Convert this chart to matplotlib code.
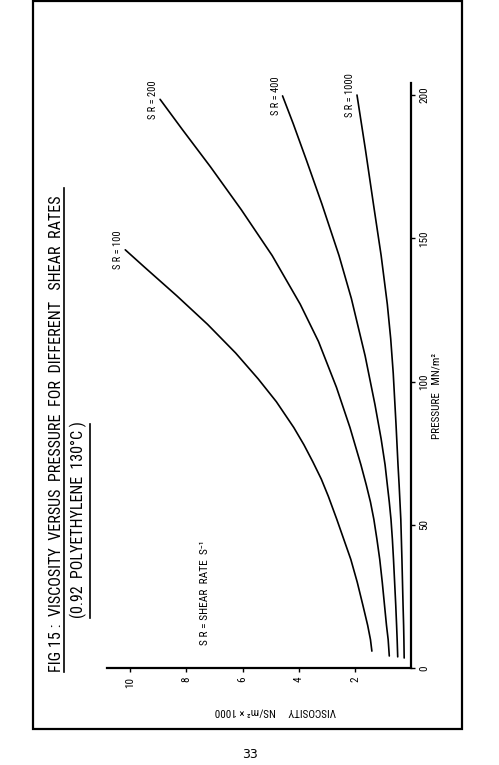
import matplotlib
matplotlib.use("Agg")
import matplotlib.pyplot as plt
from matplotlib.lines import Line2D
from matplotlib.patches import Rectangle

# ---------------- data (pressure MN/m^2, viscosity NS/m^2 x 1000) ----------------
sr100_p = [6, 10, 15, 22, 30, 38, 45, 52, 60, 66, 72, 78, 84, 93, 101, 110, 120, 130, 140, 146]
sr100_v = [1.40, 1.45, 1.55, 1.72, 1.92, 2.15, 2.40, 2.65, 2.95, 3.20, 3.50, 3.82, 4.18, 4.80, 5.45,
           6.25, 7.25, 8.35, 9.50, 10.18]

sr200_p = [4.3, 10, 15, 22, 30, 38, 45, 52, 58, 64, 71, 84, 98, 114, 127, 144, 160, 175, 188, 198.5]
sr200_v = [0.78, 0.82, 0.88, 0.95, 1.03, 1.12, 1.22, 1.33, 1.45, 1.60, 1.79, 2.18, 2.66, 3.30, 3.95,
           4.95, 6.05, 7.15, 8.15, 8.94]

sr400_p = [4, 10, 15, 22, 30, 38, 45, 52, 58, 64, 71, 80, 92, 109, 129, 144, 162, 177, 190, 199.7]
sr400_v = [0.48, 0.50, 0.52, 0.55, 0.59, 0.63, 0.67, 0.72, 0.78, 0.85, 0.93, 1.07, 1.29, 1.64, 2.13,
           2.57, 3.18, 3.72, 4.20, 4.58]

sr1000_p = [3.6, 10, 15, 22, 30, 38, 45, 52, 58, 64, 71, 85, 103, 115, 127, 144, 161, 181, 200]
sr1000_v = [0.25, 0.26, 0.27, 0.29, 0.31, 0.33, 0.35, 0.37, 0.40, 0.43, 0.47, 0.54, 0.64, 0.73, 0.85,
            1.07, 1.33, 1.63, 1.93]

series_labels = ["S R = 100", "S R = 200", "S R = 400", "S R = 1000"]
pressure_ticks = [0, 50, 100, 150, 200]
viscosity_ticks = [2, 4, 6, 8, 10]

title_text = "FIG 15 :  VISCOSITY  VERSUS  PRESSURE  FOR  DIFFERENT   SHEAR  RATES"
subtitle_text = "(0.92  POLYETHYLENE  130°C )"
note_text = "S R = SHEAR  RATE  S⁻¹"
xlabel_text = "PRESSURE   MN/m²"
ylabel_text = "VISCOSITY     NS/m² × 1000"
page_text = "33"

# ---------------- figure ----------------
W, H = 499, 765
FONT = ["Roboto Condensed", "Liberation Sans Narrow", "DejaVu Sans Condensed", "Roboto", "DejaVu Sans"]
plt.rcParams["font.family"] = FONT

fig = plt.figure(figsize=(W / 100, H / 100), dpi=100)
fig.patch.set_facecolor("white")


def fx(x):
    return x / W


def fy(y):
    return 1 - y / H


# origin (0,0) at pixel (411.2, 668.3); viscosity grows to the left, pressure upward
ax = fig.add_axes([fx(107), fy(668.3), (411.2 - 107) / W, (668.3 - 83) / H])
ax.set_xlim(10.83, 0)
ax.set_ylim(0, 204.2)
ax.patch.set_alpha(0)

for s in ["top", "left"]:
    ax.spines[s].set_visible(False)
for s in ["bottom", "right"]:
    ax.spines[s].set_linewidth(1.6)
    ax.spines[s].set_color("black")

ax.yaxis.tick_right()
ax.set_yticks(pressure_ticks)
ax.set_yticklabels([str(t) for t in pressure_ticks], rotation=90, va="center", fontsize=8)
ax.set_xticks(viscosity_ticks)
ax.set_xticklabels([str(t) for t in viscosity_ticks], rotation=90, ha="center", va="top", fontsize=8)
ax.tick_params(axis="both", direction="out", length=3, width=1.0, pad=3, colors="black")

curves = [(sr100_p, sr100_v), (sr200_p, sr200_v), (sr400_p, sr400_v), (sr1000_p, sr1000_v)]
for (p, v), lab in zip(curves, series_labels):
    ax.plot(v, p, color="black", lw=1.2, solid_capstyle="round", solid_joinstyle="round")
    ax.annotate(lab, xy=(v[-1], p[-1]), xytext=(-5, 0), textcoords="offset points",
                rotation=90, ha="center", va="center", fontsize=7.5)

# ---------------- texts ----------------
fig.text(fx(57), fy(672), title_text, rotation=90, ha="center", va="bottom", fontsize=11.6)
fig.add_artist(Line2D([fx(64), fx(64)], [fy(672), fy(188)], color="black", lw=1.2))

fig.text(fx(78), fy(618), subtitle_text, rotation=90, ha="center", va="bottom", fontsize=11.5)
fig.add_artist(Line2D([fx(90), fx(90)], [fy(618), fy(424)], color="black", lw=1.2))

fig.text(fx(205), fy(645), note_text, rotation=90, ha="center", va="bottom", fontsize=8.2)

fig.text(fx(437), fy(396), xlabel_text, rotation=90, ha="center", va="center", fontsize=8)
fig.text(fx(275), fy(711), ylabel_text, rotation=180, ha="center", va="center", fontsize=8)

# page frame and page number
fig.add_artist(Rectangle((fx(33), fy(729)), (462 - 33) / W, (729 - 0.5) / H,
                         fill=False, ec="black", lw=1.6, transform=fig.transFigure))
fig.text(fx(250), fy(755), page_text, ha="center", va="center", fontsize=9,
         family=["DejaVu Sans"])

fig.savefig("out.png", dpi=100, facecolor="white")
